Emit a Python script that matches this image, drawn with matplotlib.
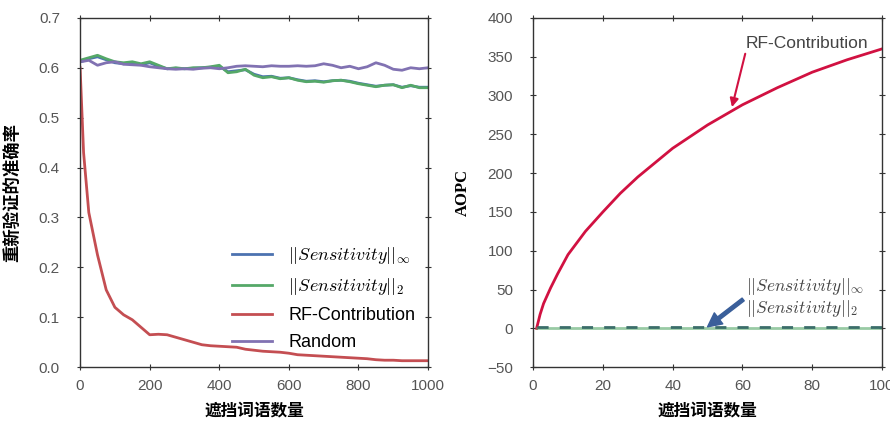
import numpy as np
import matplotlib
matplotlib.use("Agg")
from matplotlib import pyplot as plt

plt.rcParams['font.family'] = ['Liberation Sans', 'Noto Sans CJK SC', 'DejaVu Sans']
plt.rcParams['mathtext.fontset'] = 'cm'

# left panel: accuracy vs number of masked words
x_left = [0, 10, 25, 50, 75, 100, 125, 150, 175, 200, 225, 250, 275, 300, 325, 350, 375, 400,
          425, 450, 475, 500, 525, 550, 575, 600, 625, 650, 675, 700, 725, 750, 775, 800,
          825, 850, 875, 900, 925, 950, 975, 1000]
rf_contribution = [0.60, 0.43, 0.31, 0.225, 0.155, 0.12, 0.105, 0.095, 0.08, 0.065, 0.066, 0.065, 0.06,
                   0.055, 0.05, 0.045, 0.043, 0.042, 0.041, 0.04, 0.036, 0.034, 0.032, 0.031,
                   0.03, 0.028, 0.025, 0.024, 0.023, 0.022, 0.021, 0.02, 0.019, 0.018, 0.017,
                   0.015, 0.014, 0.014, 0.013, 0.013, 0.013, 0.013]
sens_2 = [0.615, 0.617, 0.62, 0.625, 0.618, 0.612, 0.61, 0.612, 0.608, 0.612, 0.605, 0.598, 0.60,
          0.598, 0.60, 0.60, 0.602, 0.605, 0.59, 0.592, 0.597, 0.585, 0.58, 0.582, 0.578,
          0.58, 0.575, 0.572, 0.573, 0.571, 0.574, 0.575, 0.572, 0.568, 0.565, 0.562,
          0.565, 0.566, 0.56, 0.565, 0.56, 0.56]
sens_inf = [0.612, 0.614, 0.618, 0.622, 0.616, 0.61, 0.608, 0.61, 0.606, 0.61, 0.603, 0.598, 0.599,
            0.598, 0.599, 0.60, 0.601, 0.603, 0.592, 0.594, 0.596, 0.587, 0.582, 0.583, 0.579,
            0.58, 0.576, 0.573, 0.574, 0.572, 0.574, 0.575, 0.573, 0.569, 0.566, 0.563,
            0.565, 0.566, 0.561, 0.564, 0.561, 0.561]
random_acc = [0.612, 0.613, 0.615, 0.605, 0.61, 0.612, 0.607, 0.606, 0.605, 0.602, 0.60, 0.598,
              0.597, 0.598, 0.597, 0.599, 0.60, 0.598, 0.60, 0.603, 0.604, 0.603, 0.602,
              0.604, 0.603, 0.603, 0.604, 0.603, 0.604, 0.608, 0.605, 0.60, 0.603, 0.598,
              0.602, 0.61, 0.605, 0.597, 0.595, 0.60, 0.598, 0.60]

# right panel: AOPC vs number of masked words
x_right = [1, 2, 3, 5, 7, 10, 15, 20, 25, 30, 40, 50, 60, 70, 80, 90, 100]
aopc_rf = [0, 18, 32, 52, 70, 95, 125, 150, 174, 195, 232, 262, 288, 310, 330, 346, 360]
aopc_sens_inf = [1.5] * len(x_right)
aopc_sens_2 = [0.5] * len(x_right)

blue = '#4C72B0'
green = '#55A868'
red = '#C44E52'
purple = '#8172B2'
crimson = '#D11141'
cjk = ['Noto Sans CJK SC']

fig = plt.figure(figsize=(8.9, 4.25), dpi=100)
ax1 = fig.add_axes([0.090, 0.136, 0.391, 0.822])
ax2 = fig.add_axes([0.599, 0.136, 0.392, 0.822])

ax1.plot(x_left, sens_inf, color=blue, lw=2, label=r'$||Sensitivity||_\infty$')
ax1.plot(x_left, sens_2, color=green, lw=2, label=r'$||Sensitivity||_2$')
ax1.plot(x_left, rf_contribution, color=red, lw=2, label='RF-Contribution')
ax1.plot(x_left, random_acc, color=purple, lw=2, label='Random')
ax1.set_xlim(0, 1000)
ax1.set_ylim(0, 0.7)
ax1.set_xticks([0, 200, 400, 600, 800, 1000])
ax1.set_yticks(np.arange(0, 0.71, 0.1))
ax1.set_xlabel('遮挡词语数量', fontsize=12, fontweight='bold', family=cjk, labelpad=6)
ax1.set_ylabel('重新验证的准确率', fontsize=12.5, fontweight='bold', family=cjk, labelpad=12)
leg = ax1.legend(loc='lower right', bbox_to_anchor=(1.01, 0.0), frameon=False, fontsize=13,
                 handlelength=2.2, labelspacing=0.55, handletextpad=0.9)

ax2.plot(x_right, aopc_rf, color=crimson, lw=2)
ax2.plot(x_right, aopc_sens_2, color=green, lw=2, alpha=0.6)
ax2.plot(x_right, aopc_sens_inf, color='#3b6e6a', lw=2, ls='--', dashes=(4, 4))
ax2.set_xlim(0, 100)
ax2.set_ylim(-50, 400)
ax2.set_xticks([0, 20, 40, 60, 80, 100])
ax2.set_yticks(np.arange(-50, 401, 50))
ax2.set_xlabel('遮挡词语数量', fontsize=12, fontweight='bold', family=cjk, labelpad=6)
ax2.set_ylabel('AOPC', fontsize=12, fontweight='bold', family=['Liberation Serif'], labelpad=12)

ax2.annotate('RF-Contribution', xy=(57, 285), xytext=(61, 367), fontsize=12.5,
             color='#444444', ha='left', va='center',
             arrowprops=dict(arrowstyle='-|>', color=crimson, lw=1.5,
                             shrinkA=0, shrinkB=0, relpos=(0.0, 0.0)))
ax2.annotate('$||Sensitivity||_\\infty$\n$||Sensitivity||_2$', xy=(50, 2), xytext=(61, 40),
             fontsize=12.5, color='#444444', ha='left', va='center', linespacing=1.1,
             arrowprops=dict(arrowstyle='simple,head_width=0.8,head_length=0.8,tail_width=0.2',
                             color='#3a5f9a', shrinkA=0, shrinkB=0, relpos=(0.0, 0.5)))

for ax in (ax1, ax2):
    ax.tick_params(direction='inout', length=5, width=0.8, top=True, right=True,
                   labelsize=11, labelcolor='#555555', colors='#333333')
    ax.tick_params(axis='x', pad=6)
    ax.tick_params(axis='y', pad=12)
    for sp in ax.spines.values():
        sp.set_linewidth(1.0)
        sp.set_color('#333333')

fig.savefig('out.png', dpi=100)
